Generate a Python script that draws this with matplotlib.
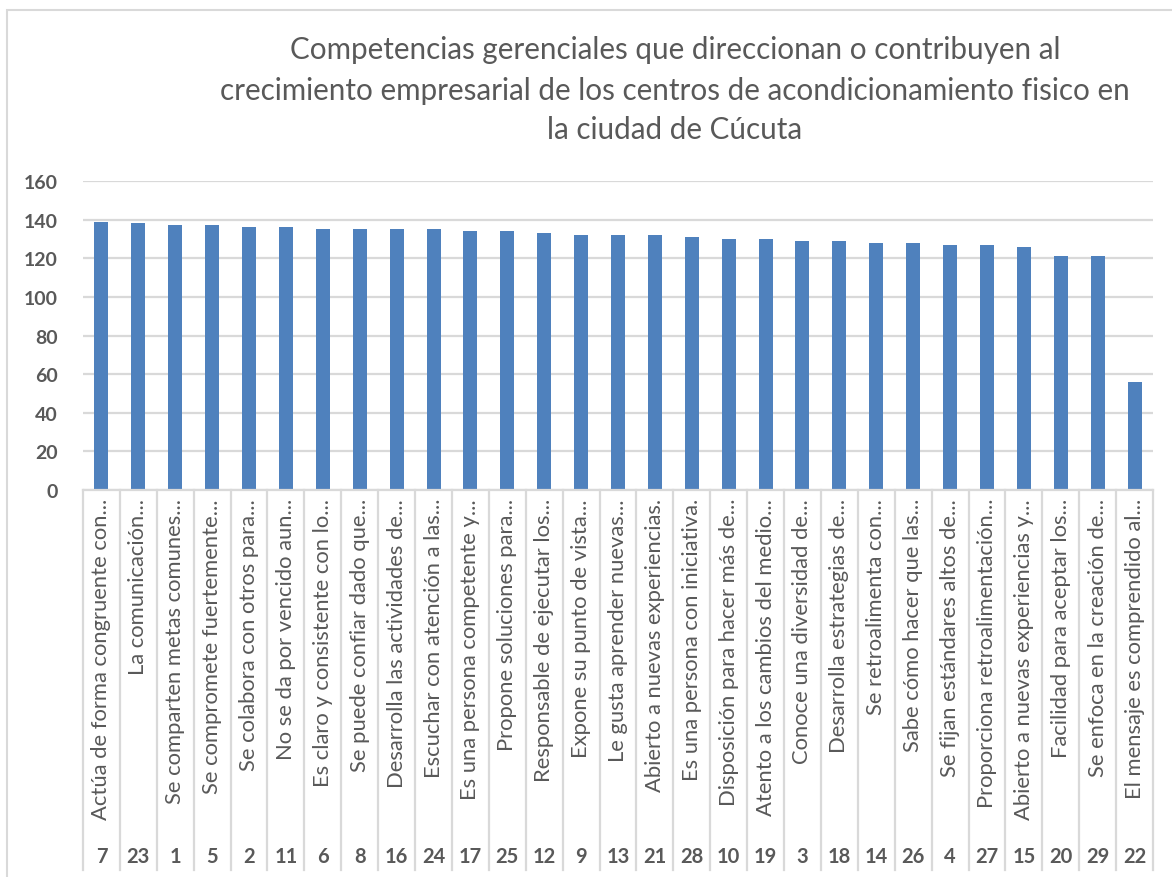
import matplotlib
matplotlib.use('Agg')
import matplotlib.pyplot as plt
from matplotlib.patches import Rectangle
from matplotlib.lines import Line2D

title_lines = [
    "Competencias gerenciales que direccionan o contribuyen al",
    "crecimiento empresarial de los centros de acondicionamiento fisico en",
    "la ciudad de Cúcuta",
]

codes = ["7", "23", "1", "5", "2", "11", "6", "8", "16", "24", "17", "25", "12", "9",
         "13", "21", "28", "10", "19", "3", "18", "14", "26", "4", "27", "15", "20", "29", "22"]

labels = [
    "Actúa de forma congruente con...",
    "La comunicación...",
    "Se comparten metas comunes...",
    "Se compromete fuertemente...",
    "Se colabora con otros para...",
    "No se da por vencido aun...",
    "Es claro y consistente con lo...",
    "Se puede confiar dado que...",
    "Desarrolla las actividades de...",
    "Escuchar con atención a las...",
    "Es una persona competente y...",
    "Propone soluciones para...",
    "Responsable de ejecutar los...",
    "Expone su punto de vista...",
    "Le gusta aprender nuevas...",
    "Abierto a nuevas experiencias.",
    "Es una persona con iniciativa.",
    "Disposición para hacer más de...",
    "Atento a los cambios del medio...",
    "Conoce una diversidad de...",
    "Desarrolla estrategias de...",
    "Se retroalimenta con...",
    "Sabe cómo hacer que las...",
    "Se fijan estándares altos de...",
    "Proporciona retroalimentación...",
    "Abierto a nuevas experiencias y...",
    "Facilidad para aceptar los...",
    "Se enfoca en la creación de...",
    "El mensaje es comprendido al...",
]

values = [139, 138, 137, 137, 136, 136, 135, 135, 135, 135, 134, 134, 133, 132,
          132, 132, 131, 130, 130, 129, 129, 128, 128, 127, 127, 126, 121, 121, 56]

yticks = [0, 20, 40, 60, 80, 100, 120, 140, 160]

W, H = 1172, 878
FONT = ['Lato', 'DejaVu Sans']
TXT = '#595959'
GRID = '#D9D9D9'

plt.rcParams['font.family'] = FONT

fig = plt.figure(figsize=(W / 100, H / 100), dpi=100)
fig.patch.set_facecolor('white')


def fx(px):
    return px / W


def fy(py):
    return 1 - py / H


# chart-area border (extends beyond the cropped image on right and bottom)
fig.patches.append(Rectangle((fx(7), -0.2), 1.5, fy(11) + 0.2, transform=fig.transFigure,
                             fill=False, ec=GRID, lw=1.5, zorder=0))

left, right, top, bottom = 83, 1153, 182, 491
ax = fig.add_axes([fx(left), fy(bottom), fx(right) - fx(left), fy(top) - fy(bottom)])
n = len(values)
xs = list(range(n))
ax.bar(xs, values, width=0.38, color='#4F81BD', zorder=3)
ax.set_xlim(-0.5, n - 0.5)
ax.set_ylim(0, 160)
ax.set_yticks(yticks)
ax.set_yticklabels([str(t) for t in yticks], color=TXT, fontsize=14, fontweight='bold')
ax.tick_params(axis='y', length=0, pad=18)
ax.set_xticks([])
ax.yaxis.grid(True, color=GRID, lw=1.6, zorder=0)
ax.set_axisbelow(True)
for s in ax.spines.values():
    s.set_visible(False)

axh = bottom - top
trans = ax.get_xaxis_transform()
# axis line
ax.add_line(Line2D([-0.5, n - 0.5], [0, 0], transform=trans, color=GRID, lw=1.6,
                   clip_on=False, zorder=4))
# category dividers
for b in range(n + 1):
    ax.add_line(Line2D([b - 0.5, b - 0.5], [0, -(871 - bottom) / axh], transform=trans,
                       color=GRID, lw=1.6, clip_on=False))

for i in range(n):
    ax.text(xs[i], -(499 - bottom) / axh, labels[i], transform=trans, rotation=90,
            ha='center', va='top', fontsize=15.8, color=TXT)
    ax.text(xs[i], -(857 - bottom) / axh, codes[i], transform=trans,
            ha='center', va='center', fontsize=14.5, fontweight='bold', color=TXT)

title_y = [50, 91, 130]
for line, yy in zip(title_lines, title_y):
    fig.text(fx(675), fy(yy), line, ha='center', va='center', fontsize=21.3, color=TXT)

fig.savefig('out.png', dpi=100, facecolor='white')
